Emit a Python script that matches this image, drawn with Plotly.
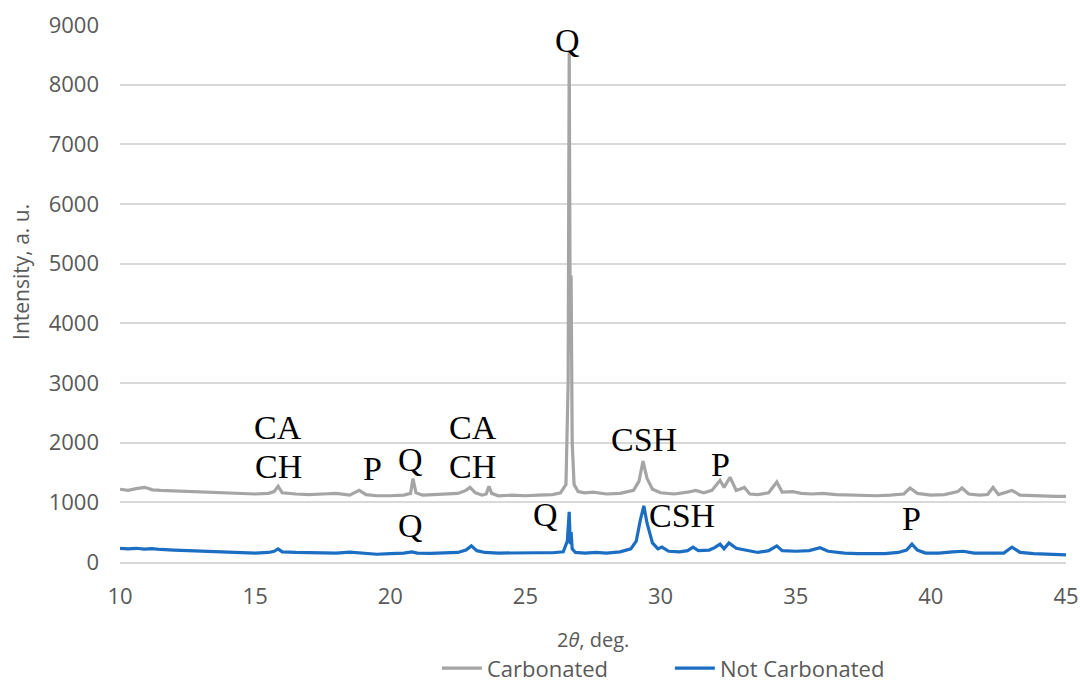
import plotly.graph_objects as go

# Carbonated series (2theta, intensity)
carb_x = [10.0, 10.3, 10.6, 10.9, 11.0, 11.2, 11.5, 12.0, 12.5, 13.0, 13.5, 14.0, 14.5, 15.0, 15.5,
          15.7, 15.85, 16.0, 16.5, 17.0, 17.5, 18.0, 18.5, 18.85, 19.1, 19.5, 20.0, 20.5, 20.75,
          20.84, 20.95, 21.2, 21.6, 22.0, 22.5, 22.8, 22.95, 23.15, 23.4, 23.55, 23.65, 23.75,
          24.0, 24.5, 25.0, 25.5, 26.0, 26.3, 26.5, 26.58, 26.62, 26.66, 26.69, 26.73, 26.8,
          26.95, 27.2, 27.5, 28.0, 28.5, 29.0, 29.2, 29.35, 29.5, 29.7, 30.0, 30.5, 31.0, 31.3,
          31.6, 31.9, 32.2, 32.35, 32.57, 32.8, 33.1, 33.3, 33.6, 34.0, 34.3, 34.5, 34.9, 35.2,
          35.6, 36.0, 36.5, 37.0, 37.5, 38.0, 38.5, 39.0, 39.23, 39.5, 40.0, 40.5, 41.0, 41.15,
          41.4, 41.8, 42.1, 42.3, 42.5, 43.0, 43.3, 43.8, 44.2, 44.6, 45.0]
carb_y = [1220, 1200, 1230, 1250, 1240, 1210, 1200, 1190, 1180, 1170, 1160, 1150, 1150, 1140, 1150,
          1180, 1270, 1160, 1140, 1130, 1140, 1150, 1120, 1200, 1130, 1110, 1110, 1120, 1150,
          1400, 1160, 1120, 1130, 1140, 1150, 1200, 1250, 1160, 1120, 1140, 1270, 1150,
          1110, 1120, 1110, 1120, 1130, 1160, 1300, 3000, 8550, 3500, 4800, 2000, 1300,
          1180, 1160, 1170, 1140, 1150, 1200, 1350, 1690, 1400, 1220, 1160, 1140, 1170, 1200,
          1160, 1200, 1370, 1250, 1420, 1200, 1250, 1140, 1130, 1160, 1340, 1170, 1180, 1150,
          1140, 1150, 1130, 1120, 1120, 1110, 1120, 1140, 1240, 1150, 1120, 1130, 1180, 1240,
          1140, 1120, 1130, 1250, 1130, 1200, 1120, 1110, 1100, 1100, 1100]

# Not carbonated series
notc_x = [10.0, 10.3, 10.6, 10.9, 11.2, 11.5, 12.0, 12.5, 13.0, 13.5, 14.0, 14.5, 15.0, 15.5, 15.7,
          15.85, 16.0, 16.5, 17.0, 17.5, 18.0, 18.5, 19.0, 19.5, 20.0, 20.5, 20.8, 21.0, 21.5,
          22.0, 22.5, 22.8, 23.0, 23.2, 23.5, 24.0, 24.5, 25.0, 25.5, 26.0, 26.4, 26.55, 26.62,
          26.66, 26.69, 26.73, 26.85, 27.2, 27.6, 28.0, 28.5, 28.9, 29.1, 29.25, 29.38, 29.5,
          29.7, 29.9, 30.05, 30.3, 30.7, 31.0, 31.2, 31.4, 31.8, 32.0, 32.2, 32.35, 32.53, 32.8,
          33.2, 33.6, 34.0, 34.3, 34.5, 35.0, 35.5, 35.9, 36.2, 36.8, 37.3, 37.8, 38.3, 38.8,
          39.1, 39.3, 39.5, 39.8, 40.3, 40.8, 41.2, 41.6, 42.2, 42.7, 43.0, 43.3, 43.8, 44.3,
          44.7, 45.0]
notc_y = [230, 220, 230, 215, 225, 210, 200, 190, 180, 170, 165, 160, 150, 160, 180,
          220, 170, 160, 155, 160, 150, 165, 150, 130, 140, 150, 170, 150, 145,
          150, 160, 200, 270, 190, 160, 150, 155, 150, 155, 155, 170, 350, 840,
          300, 500, 220, 160, 150, 160, 150, 170, 220, 350, 700, 940, 650,
          320, 220, 250, 180, 170, 190, 250, 190, 200, 240, 300, 220, 320, 230,
          190, 160, 190, 270, 190, 180, 190, 240, 180, 150, 140, 135, 140, 160,
          200, 300, 200, 150, 150, 170, 180, 150, 145, 150, 250, 160, 140, 130,
          125, 120]

# Phase labels
lab_text = ["CA", "CH", "P", "Q", "CA", "CH", "Q", "CSH", "P", "Q", "Q", "CSH", "P"]
lab_x = [15.85, 15.85, 19.36, 20.73, 23.06, 23.06, 26.54, 29.37, 32.2, 20.73, 25.76, 30.81, 39.3]
lab_y = [2262, 1609, 1575, 1726, 2262, 1609, 8748, 2061, 1626, 620, 804, 775, 737]

x_ticks = [10, 15, 20, 25, 30, 35, 40, 45]
y_ticks = [0, 1000, 2000, 3000, 4000, 5000, 6000, 7000, 8000, 9000]

fig = go.Figure()
fig.add_trace(go.Scatter(x=carb_x, y=carb_y, mode="lines", name="Carbonated",
                         line=dict(color="#a5a5a5", width=3.2)))
fig.add_trace(go.Scatter(x=notc_x, y=notc_y, mode="lines", name="Not Carbonated",
                         line=dict(color="#1b6ec2", width=3.2)))

for t, x, y in zip(lab_text, lab_x, lab_y):
    fig.add_annotation(x=x, y=y, text=t, showarrow=False, xref="x", yref="y",
                       font=dict(family="Liberation Serif", size=34, color="black"))

grey = "#595959"
fig.add_annotation(x=0.5, y=-0.1434, xref="paper", yref="paper", showarrow=False,
                   text="2<i>θ</i>, deg.", yanchor="middle",
                   font=dict(family="Open Sans", size=20, color=grey))
fig.add_annotation(x=-0.1047, y=0.540, xref="paper", yref="paper", showarrow=False,
                   text="Intensity, a. u.", textangle=-90, xanchor="center", yanchor="middle",
                   font=dict(family="Open Sans", size=21, color=grey))

tick_font = dict(family="Open Sans", size=22, color=grey)
fig.update_layout(
    width=1080, height=687,
    margin=dict(l=120, r=14, t=25, b=125, autoexpand=False),
    paper_bgcolor="white", plot_bgcolor="white",
    showlegend=True,
    legend=dict(orientation="h", x=0.335, xanchor="left", y=-0.198, yanchor="middle",
                font=dict(family="Open Sans", size=22, color=grey),
                itemwidth=40, tracegroupgap=0, entrywidth=178, entrywidthmode="pixels"),
    xaxis=dict(range=[10, 45], tickvals=x_ticks, showgrid=False, zeroline=False, automargin=False,
               showline=True, linecolor="#d9d9d9", linewidth=1.5,
               tickfont=tick_font, ticks="", ticklabelstandoff=14),
    yaxis=dict(range=[0, 9000], tickvals=y_ticks, showgrid=True, gridcolor="#d9d9d9", gridwidth=1.5,
               zeroline=False, automargin=False, tickfont=tick_font, ticks="", ticklabelstandoff=20),
)

fig.write_html("out.html", config={"displayModeBar": False},
               post_script="document.body.style.margin='0';document.body.style.overflow='hidden';")
